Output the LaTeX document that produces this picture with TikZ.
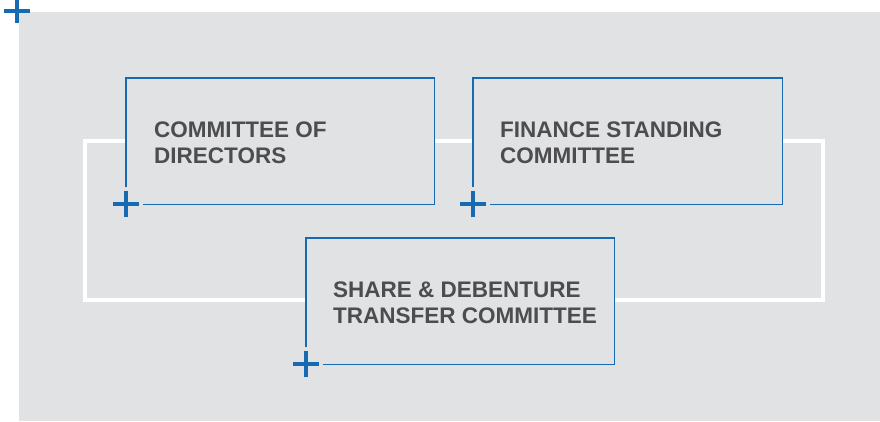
\documentclass[tikz,border=0pt]{standalone}
\usepackage{fontspec}
\setmainfont{Liberation Sans}
\usetikzlibrary{positioning}
\begin{document}
\begin{tikzpicture}[x=1pt,y=-1pt,
  panel/.style={draw=none, fill=bgray, inner sep=0pt, minimum width=308pt, minimum height=126pt, anchor=north west},
  caption/.style={anchor=north west, inner sep=0pt, align=left, text=ink, font=\fontsize{22.5}{26}\selectfont\bfseries},
  rule/.style={brand, line width=1.6pt},
  cross/.style={brand, line width=4pt}]
  \definecolor{brand}{RGB}{22,106,178}
  \definecolor{bgray}{RGB}{225,226,228}
  \definecolor{ink}{RGB}{77,77,79}

  \useasboundingbox (0,0) rectangle (880,421);
  \fill[bgray] (19,12) rectangle (880,421);
  \coordinate (origin) at (17,11);
  \draw[cross] ([xshift=-13pt]origin) -- ([xshift=13pt]origin);
  \draw[cross] ([yshift=-12pt]origin) -- ([yshift=12pt]origin);

  % white frame behind the panels
  \draw[white, line width=4.5pt] (85,141) rectangle (823,300);

  \node[panel] (c1) at (126,78) {};
  \node[panel, minimum width=309pt] (c2) at (473,78) {};
  \node[panel] (c3) at (306,238) {};

  \foreach \n in {c1,c2,c3} {
    \draw[rule] ([yshift=17pt]\n.south west) -- (\n.north west) -- (\n.north east)
      -- (\n.south east) -- ([xshift=17pt]\n.south west);
    \draw[cross] ([xshift=-13pt]\n.south west) -- ([xshift=13pt]\n.south west);
    \draw[cross] ([yshift=-13pt]\n.south west) -- ([yshift=13pt]\n.south west);
  }

  \node[caption] (t1) at ([xshift=28pt,yshift=-44pt]c1.north west) {COMMITTEE OF\\DIRECTORS};
  \node[caption] (t2) at ([xshift=27pt,yshift=-44pt]c2.north west) {FINANCE STANDING\\COMMITTEE};
  \node[caption] (t3) at ([xshift=27pt,yshift=-44pt]c3.north west) {SHARE \& DEBENTURE\\TRANSFER COMMITTEE};
\end{tikzpicture}
\end{document}
